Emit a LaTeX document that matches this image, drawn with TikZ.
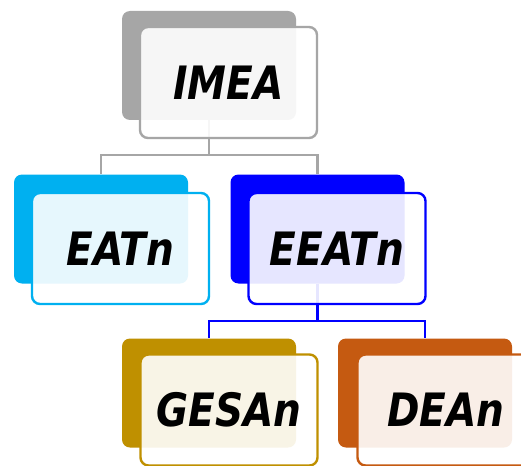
\documentclass[tikz,border=0pt]{standalone}
\usepackage{fontspec}
\newfontfamily\comicfont[FakeStretch=0.85]{DejaVu Sans}
\definecolor{cgray}{HTML}{A6A6A6}
\definecolor{ccyan}{HTML}{00B0F0}
\definecolor{cblue}{HTML}{0000FF}
\definecolor{cgold}{HTML}{BF9000}
\definecolor{corange}{HTML}{C55A11}
\tikzset{
  backbox/.style={fill=#1, draw=none, rounded corners=8pt, minimum width=174pt, minimum height=109pt, inner sep=0pt},
  frontbox/.style={fill=white, fill opacity=0.9, text opacity=1, draw=#1, line width=2.4pt, rounded corners=8pt, minimum width=177pt, minimum height=111pt, inner sep=0pt,
     font=\comicfont\bfseries\itshape\fontsize{46}{46}\selectfont, text=black},
  link/.style={draw=#1, line width=2.4pt}
}
\begin{document}
\begin{tikzpicture}[x=1pt,y=-1pt]
\clip (0,0) rectangle (521,465);
\fill[white] (0,0) rectangle (521,465);
% back boxes
\node[backbox=cgray] (imeaB) at (209,65.5) {};
\node[backbox=ccyan] (eatB) at (101,229) {};
\node[backbox=cblue] (eeatB) at (317.5,229) {};
\node[backbox=cgold] (gesB) at (209,393) {};
\node[backbox=corange] (deaB) at (425,393) {};
% connectors
\draw[link=cgray] (imeaB.south) -- ++(0,35) -| (eatB.north);
\draw[link=cgray] (imeaB.south) -- ++(0,35) -| (eeatB.north);
\draw[link=cblue] (eeatB.south) -- ++(0,37) -| (gesB.north);
\draw[link=cblue] (eeatB.south) -- ++(0,37) -| (deaB.north);
% front boxes
\node[frontbox=cgray] (imea) at (228.5,82.5) {\raisebox{-2pt}{IMEA}};
\node[frontbox=ccyan] (eat) at (120.5,248.5) {\raisebox{-2pt}{EATn}};
\node[frontbox=cblue] (eeat) at (337,248.5) {\raisebox{-2pt}{EEATn}};
\node[frontbox=cgold] (ges) at (229,410) {\raisebox{-2pt}{GESAn}};
\node[frontbox=corange] (dea) at (446,410) {\raisebox{-2pt}{DEAn}};
\end{tikzpicture}
\end{document}
